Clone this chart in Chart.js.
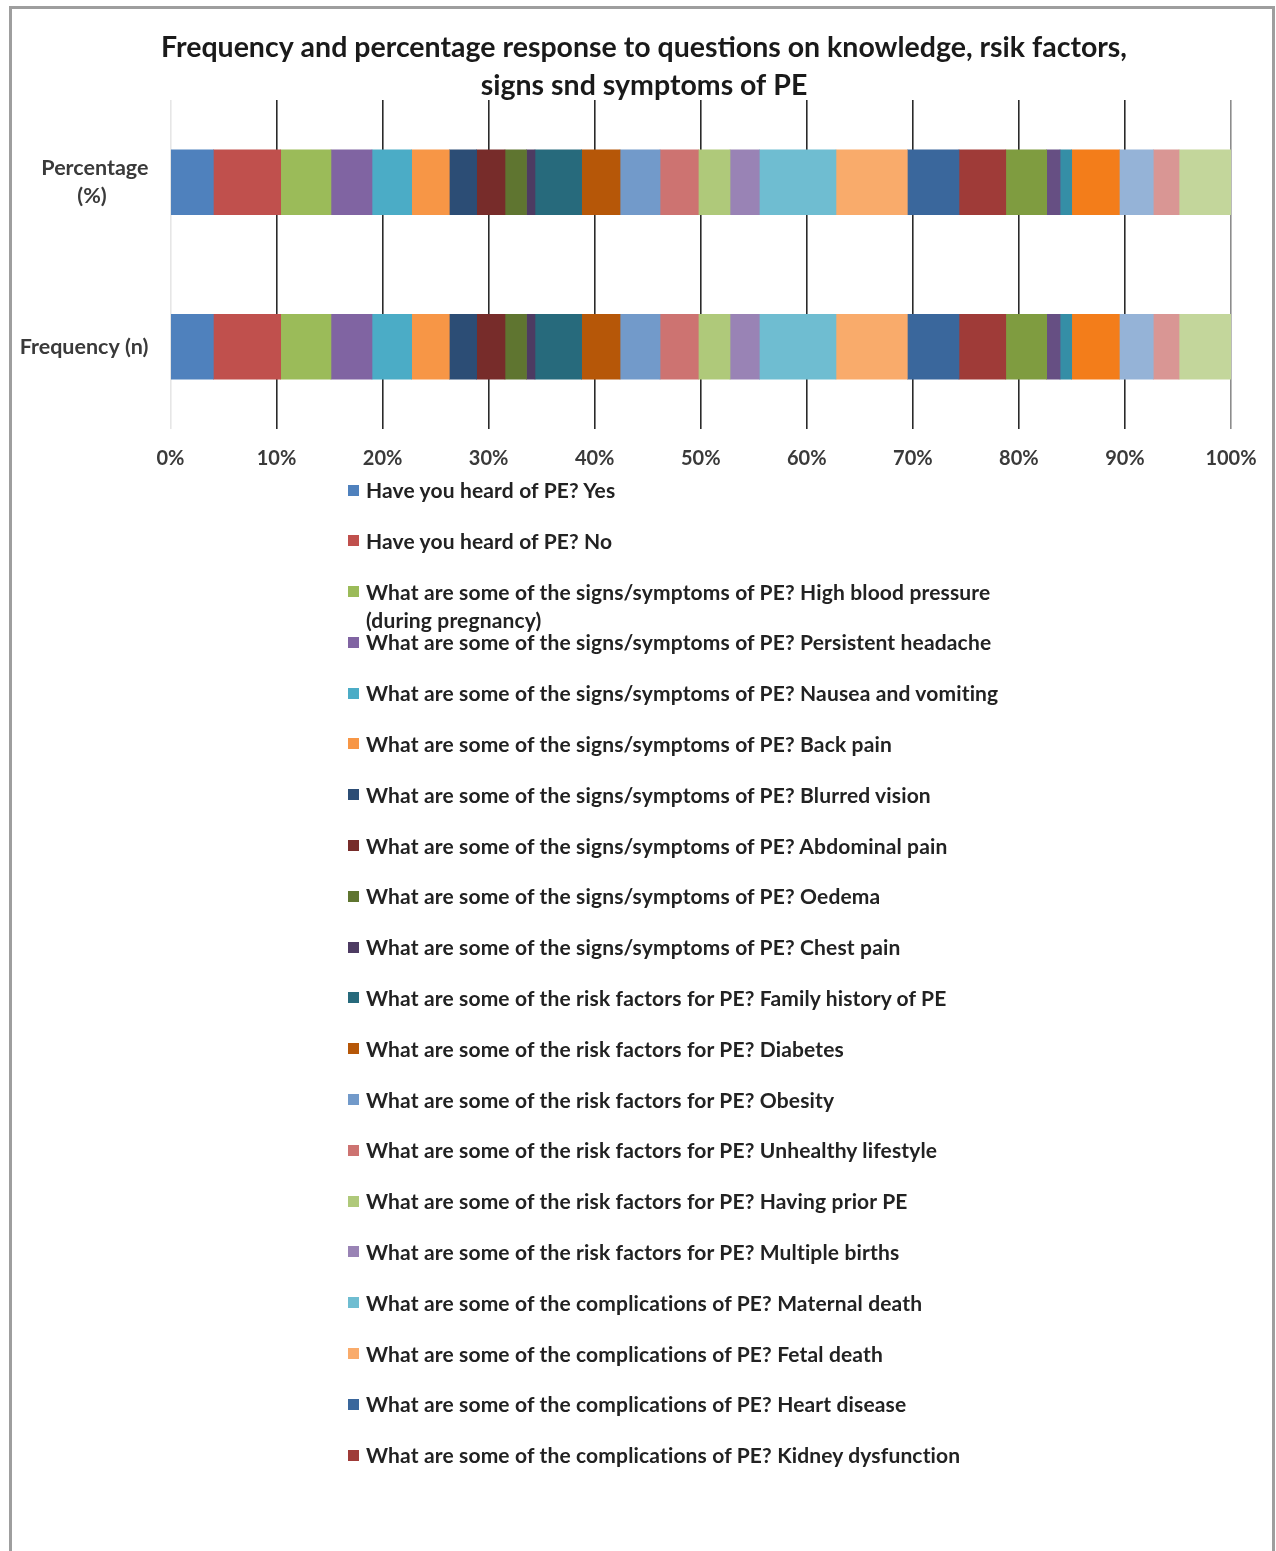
<!DOCTYPE html>
<html>
<head>
<meta charset="utf-8">
<script src="https://cdn.jsdelivr.net/npm/chart.js@4/dist/chart.umd.min.js"></script>
<style>
  html, body { margin: 0; padding: 0; background: #fff; }
  body { width: 1276px; height: 1551px; position: relative; overflow: hidden; font-family: Lato, "Open Sans", sans-serif; }
  #frame { position: absolute; left: 9px; top: 6px; width: 1260px; height: 1560px;
           border: 3px solid #9e9e9e; border-bottom: none; }
  #chartWrap { position: absolute; left: 0; top: 0; width: 1276px; height: 480px; }
  #legend { position: absolute; left: 348px; top: 476px; width: 800px; }
  .item { position: relative; height: 50.8px; }
  .swatch { position: absolute; left: 0; top: 8.5px; width: 11px; height: 11px; }
  .text { position: absolute; left: 18px; top: 0; width: 760px; font-weight: 700; font-size: 21px;
          letter-spacing: 0.15px; line-height: 28px; color: #222; white-space: pre-line; }
</style>
</head>
<body>
<div id="frame"></div>
<div id="chartWrap"><canvas id="chart" width="1276" height="480"></canvas></div>
<div id="legend"></div>
<script>
// Bar rows (y-axis categories)
const categories = [['Percentage', '(%)        '], 'Frequency (n)'];

// Response items, in stacking order (left to right)
const seriesNames = [
  'Have you heard of PE? Yes',
  'Have you heard of PE? No',
  'What are some of the signs/symptoms of PE? High blood pressure\n(during pregnancy)',
  'What are some of the signs/symptoms of PE? Persistent headache',
  'What are some of the signs/symptoms of PE? Nausea and vomiting',
  'What are some of the signs/symptoms of PE? Back pain',
  'What are some of the signs/symptoms of PE? Blurred vision',
  'What are some of the signs/symptoms of PE? Abdominal pain',
  'What are some of the signs/symptoms of PE? Oedema',
  'What are some of the signs/symptoms of PE? Chest pain',
  'What are some of the risk factors for PE? Family history of PE',
  'What are some of the risk factors for PE? Diabetes',
  'What are some of the risk factors for PE? Obesity',
  'What are some of the risk factors for PE? Unhealthy lifestyle',
  'What are some of the risk factors for PE? Having prior PE',
  'What are some of the risk factors for PE? Multiple births',
  'What are some of the complications of PE? Maternal death',
  'What are some of the complications of PE? Fetal death',
  'What are some of the complications of PE? Heart disease',
  'What are some of the complications of PE? Kidney dysfunction',
  '', '', '', '', '', '', ''
];

// Share of each row taken by every response item
const percentageRow = [4.04, 6.35, 4.74, 3.87, 3.74, 3.55, 2.58, 2.67, 2.03, 0.80,
                       4.40, 3.62, 3.77, 3.61, 2.99, 2.76, 7.23, 6.73, 4.87, 4.41,
                       3.86, 1.26, 1.10, 4.49, 3.20, 2.43, 4.90];
const frequencyRow  = [4.04, 6.35, 4.74, 3.87, 3.74, 3.55, 2.58, 2.67, 2.03, 0.80,
                       4.40, 3.62, 3.77, 3.61, 2.99, 2.76, 7.23, 6.73, 4.87, 4.41,
                       3.86, 1.26, 1.10, 4.49, 3.20, 2.43, 4.90];

// Axis tick values
const xTicks = [0, 10, 20, 30, 40, 50, 60, 70, 80, 90, 100];

// Office-style series palette
const palette = [
  '#4F81BD', '#C0504D', '#9BBB59', '#8064A2', '#4BACC6', '#F79646',
  '#2C4D75', '#772C2A', '#5F7530', '#4D3B62', '#276A7C', '#B65708',
  '#729ACA', '#CD7371', '#AFC97A', '#9983B5', '#6FBDD1', '#F9AB6B',
  '#3A679C', '#9F3B38', '#7F9C40', '#664F83', '#358EA6', '#F37D1A',
  '#95B3D7', '#D99694', '#C3D69B'
];

// 100% stacking: each row is scaled to its own total
const rows = [percentageRow, frequencyRow];
const rowTotals = rows.map(r => r.reduce((a, b) => a + b, 0));

const datasets = seriesNames.map((name, i) => ({
  label: name,
  data: rows.map((r, k) => r[i] / rowTotals[k] * 100),
  backgroundColor: palette[i],
  borderWidth: 0,
  barThickness: 65
}));

const textColor = '#3a3a3a';
const font = { family: 'Lato, "Open Sans", sans-serif', weight: 'bold' };

// Centre the title over the whole frame rather than the padded chart box
const titleCentering = {
  id: 'titleCentering',
  afterLayout(chart) {
    const t = chart.titleBlock;
    if (t) { t.left = 12; t.right = chart.width; }
  }
};

const chart = new Chart(document.getElementById('chart'), {
  type: 'bar',
  data: { labels: categories, datasets },
  plugins: [titleCentering],
  options: {
    indexAxis: 'y',
    responsive: false,
    animation: false,
    devicePixelRatio: 1,
    layout: { padding: { left: 0, right: 45, top: 0, bottom: 0 } },
    plugins: {
      legend: { display: false },
      tooltip: { enabled: false },
      title: {
        display: true,
        text: ['Frequency and percentage response to questions on knowledge, rsik factors,',
               'signs snd symptoms of PE'],
        color: '#1a1a1a',
        font: { ...font, size: 28.5, lineHeight: '38px' },
        padding: { top: 29, bottom: -5 }
      }
    },
    scales: {
      x: {
        stacked: true,
        min: 0, max: 100,
        afterBuildTicks: s => { s.ticks = xTicks.map(v => ({ value: v })); },
        afterFit: s => { s.height = 51; },
        border: { display: false },
        grid: {
          drawTicks: false,
          lineWidth: 1.6,
          color: c => c.index === 0 ? '#e6e6e6' : (c.index === xTicks.length - 1 ? '#8c8c8c' : '#2a2a2a')
        },
        ticks: {
          padding: 18,
          color: textColor,
          font: { ...font, size: 20 },
          callback: v => v + '%'
        }
      },
      y: {
        stacked: true,
        afterFit: s => { s.width = 170.5; },
        border: { display: false },
        grid: { display: false },
        ticks: {
          padding: 14,
          color: textColor,
          font: { ...font, size: 21.5, lineHeight: '28px' }
        }
      }
    }
  }
});

// Legend built from the chart's own dataset list
const legendEl = document.getElementById('legend');
chart.data.datasets.forEach(ds => {
  if (!ds.label) return;
  const row = document.createElement('div');
  row.className = 'item';
  const sw = document.createElement('span');
  sw.className = 'swatch';
  sw.style.background = ds.backgroundColor;
  const tx = document.createElement('span');
  tx.className = 'text';
  tx.textContent = ds.label;
  row.appendChild(sw);
  row.appendChild(tx);
  legendEl.appendChild(row);
});
</script>
</body>
</html>
